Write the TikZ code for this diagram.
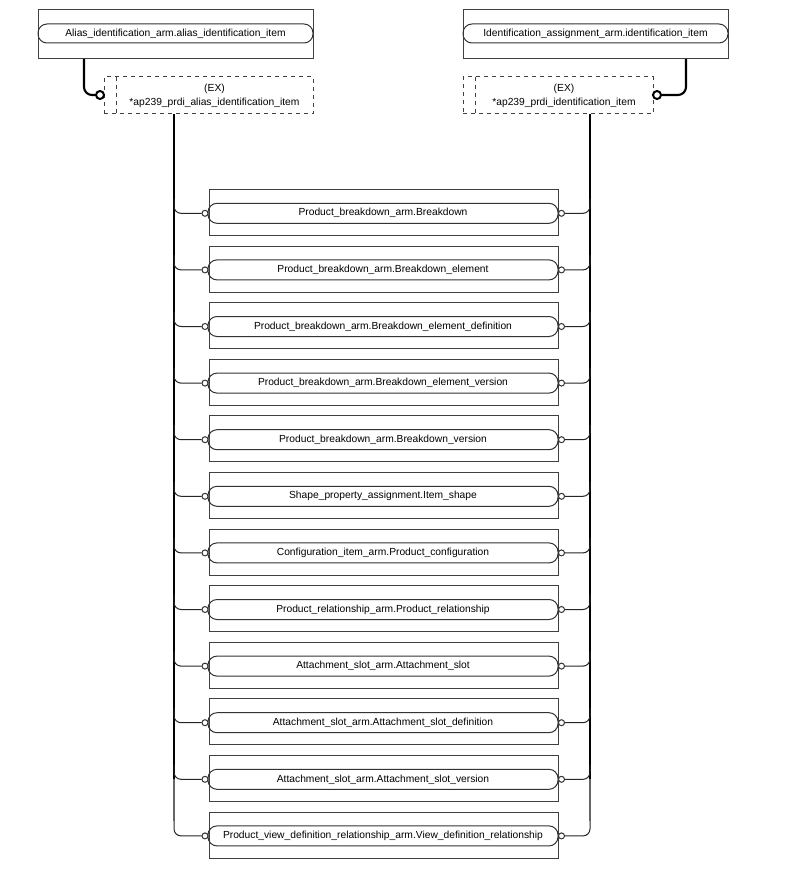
\documentclass[tikz,border=0pt]{standalone}
\usepackage{fontspec}
\setmainfont{Liberation Sans}
\begin{document}
\begin{tikzpicture}[x=0.75pt,y=-0.75pt,
  outerbox/.style={draw=black!75,line width=0.75pt,minimum width={349*0.75pt},minimum height={46*0.75pt},inner sep=0pt},
  bar/.style={draw=black!80,line width=0.75pt,rounded corners={9*0.75pt},minimum width={350*0.75pt},minimum height={20*0.75pt},inner sep=0pt,font=\fontsize{7.7}{9.2}\selectfont},
  topouter/.style={draw=black!75,line width=0.75pt,minimum height={49*0.75pt},inner sep=0pt},
  topbar/.style={draw=black!80,line width=0.75pt,rounded corners={9*0.75pt},minimum height={19*0.75pt},inner sep=0pt,font=\fontsize{7.7}{9.2}\selectfont},
  exbox/.style={draw=black!75,dashed,line width=0.75pt,minimum height={37*0.75pt},inner sep=0pt},
  extext/.style={align=center,inner sep=0pt,font=\fontsize{7.7}{10.8}\selectfont},
  smallcirc/.style={circle,draw=black!80,line width=0.75pt,minimum size={6*0.75pt},inner sep=0pt,fill=white},
  bigcirc/.style={circle,draw=black,line width=1.5pt,minimum size={8*0.75pt},inner sep=0pt,fill=white},
  thick link/.style={draw=black,line width=1.6pt,rounded corners={8*0.75pt}},
  branch/.style={draw=black!85,line width=0.75pt,rounded corners={7*0.75pt}}
]
\useasboundingbox[fill=white] (0,0) rectangle (794,870);

% top left
\node[topouter,minimum width={275*0.75pt}] (tlo) at (175.5,34.5) {};
\node[topbar,minimum width={275*0.75pt}] (tlb) at (175.5,33.5) {Alias\_identification\_arm.alias\_identification\_item};
\node[exbox,minimum width={209*0.75pt}] (exl) at (208.5,95.5) {};
\draw[dashed,black!75,line width=0.75pt] (116,77) -- (116,114);
\node[extext] (exlt) at (214.5,96) {(EX)\\*ap239\_prdi\_alias\_identification\_item};
\node[bigcirc] (cL) at (100,95) {};
\coordinate (tlx) at (84,59);
\draw[thick link] (tlx) -- (84,95) -- (cL.west);

% top right
\node[topouter,minimum width={265*0.75pt}] (tro) at (595.5,34.5) {};
\node[topbar,minimum width={265*0.75pt}] (trb) at (595.5,33.5) {Identification\_assignment\_arm.identification\_item};
\node[exbox,minimum width={190*0.75pt}] (exr) at (558,95.5) {};
\draw[dashed,black!75,line width=0.75pt] (475,77) -- (475,114);
\node[extext] (exrt) at (564,96) {(EX)\\*ap239\_prdi\_identification\_item};
\node[bigcirc] (cR) at (657,95) {};
\coordinate (trx) at (686,59);
\draw[thick link] (trx) -- (686,95) -- (cR.east);

% trunks
\coordinate (lt0) at (174,114);
\coordinate (rt0) at (590,114);
\coordinate (lt1) at (174,779);
\coordinate (rt1) at (590,779);
\draw[black,line width=1.5pt] (lt0) -- (lt1);
\draw[black,line width=1.5pt] (rt0) -- (rt1);

\foreach \t [count=\i from 0] in {
 Product\_breakdown\_arm.Breakdown,
 Product\_breakdown\_arm.Breakdown\_element,
 Product\_breakdown\_arm.Breakdown\_element\_definition,
 Product\_breakdown\_arm.Breakdown\_element\_version,
 Product\_breakdown\_arm.Breakdown\_version,
 Shape\_property\_assignment.Item\_shape,
 Configuration\_item\_arm.Product\_configuration,
 Product\_relationship\_arm.Product\_relationship,
 Attachment\_slot\_arm.Attachment\_slot,
 Attachment\_slot\_arm.Attachment\_slot\_definition,
 Attachment\_slot\_arm.Attachment\_slot\_version,
 Product\_view\_definition\_relationship\_arm.View\_definition\_relationship}
{
 \pgfmathsetmacro\yc{212.5+56.6*\i}
 \pgfmathsetmacro\yb{\yc+0.8}
 \pgfmathsetmacro\ya{\yc-14}
 \node[outerbox] (o\i) at (383.5,\yc) {};
 \node[bar] (b\i) at (383,\yb) {\t};
 \node[smallcirc] (cl\i) at (205,\yb) {};
 \node[smallcirc] (cr\i) at (561.5,\yb) {};
 \coordinate (la\i) at (174,\ya);
 \coordinate (ra\i) at (590,\ya);
 \draw[branch] (la\i) -- (174,\yb) -- (cl\i.west);
 \draw[branch] (ra\i) -- (590,\yb) -- (cr\i.east);
}
\draw[black!60,line width=1pt] (lt1) -- (la11);
\draw[black!60,line width=1pt] (rt1) -- (ra11);
\end{tikzpicture}
\end{document}
